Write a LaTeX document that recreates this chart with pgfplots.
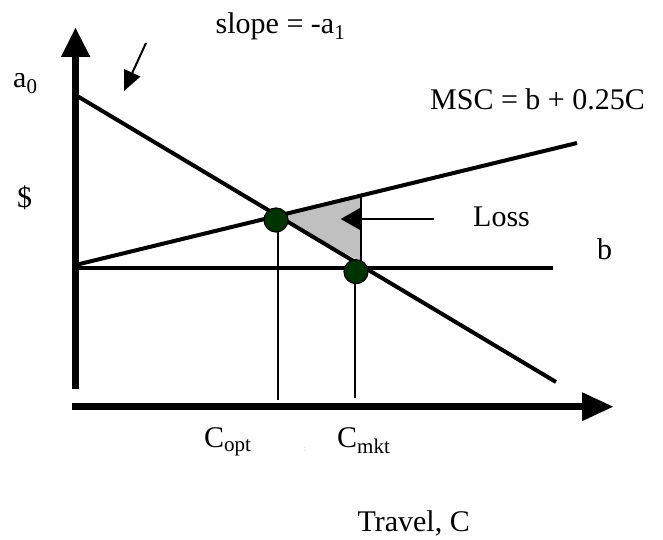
\documentclass[border=0pt]{standalone}
\usepackage{fontspec}
\setmainfont{Liberation Serif}
\usepackage{pgfplots}
\pgfplotsset{compat=1.18}
\definecolor{dotgreen}{RGB}{0,51,0}
\definecolor{lossgray}{RGB}{192,192,192}
\tikzset{lbl/.style={font=\fontsize{30}{36}\selectfont, inner sep=0pt, anchor=base west}}

\begin{document}
\begin{tikzpicture}
\begin{axis}[x=1pt, y=1pt, xmin=0, xmax=663, ymin=0, ymax=540,
  scale only axis, hide axis, clip=false]
  % page frame
  \addplot[draw=none] coordinates {(0,0) (663,540)};
  % deadweight loss triangle
  \addplot[fill=lossgray, draw=none] coordinates {(278.5,323.8) (361,343.6) (361,278) (278.5,323.8)};
  \addplot[black, line width=2pt] coordinates {(361,343.6) (361,278)};
  % demand, MSC and b
  \addplot[black, line width=4pt] coordinates {(75.5,445) (556,158)};
  \addplot[black, line width=4pt] coordinates {(75.5,275) (577,397)};
  \addplot[black, line width=4pt] coordinates {(75.5,272.3) (553,272.3)};
  % axes with arrowheads
  \addplot[black, line width=6.5pt] coordinates {(75.5,151) (75.5,484)};
  \addplot[fill=black, draw=none] coordinates {(61,483) (90.4,483) (75.5,512) (61,483)};
  \addplot[black, line width=6.5pt] coordinates {(72,133.3) (583,133.3)};
  \addplot[fill=black, draw=none] coordinates {(582,147.8) (582,118.8) (613,133.3) (582,147.8)};
  % C_mkt drop line (under the dot)
  \addplot[black, line width=2pt] coordinates {(355,268) (355,142)};
  % equilibrium dots
  \addplot[only marks, mark=*, mark size=12, mark options={fill=dotgreen, draw=black, line width=1.2pt}]
    coordinates {(276,320) (356,268.3)};
  % C_opt drop line (over the dot)
  \addplot[black, line width=2pt] coordinates {(278,320) (278,140)};
  % Loss arrow
  \addplot[black, line width=2pt] coordinates {(434,321) (358,321)};
  \addplot[fill=black, draw=none] coordinates {(360,332) (360,310) (340.7,321) (360,332)};
  % slope arrow
  \addplot[black, line width=2pt] coordinates {(146,497) (132.3,467.2)};
  \addplot[fill=black, draw=none] coordinates {(140.5,463.4) (124.1,471) (124,449) (140.5,463.4)};
  % labels
  \node[lbl] at (axis cs:215.5,506) {slope = -a\textsubscript{1}};
  \node[lbl] at (axis cs:13,452) {a\textsubscript{0}};
  \node[lbl] at (axis cs:430,430) {MSC = b + 0.25C};
  \node[lbl] at (axis cs:17,332) {\$};
  \node[lbl] at (axis cs:473,313.3) {Loss};
  \node[lbl] at (axis cs:597,280) {b};
  \node[lbl] at (axis cs:204,92) {C\textsubscript{opt}};
  \node[lbl] at (axis cs:337,92) {C\textsubscript{mkt}};
  \node[anchor=base, inner sep=0pt, text=black!25, font=\fontsize{8}{8}\selectfont] at (axis cs:305,88) {:};
  \node[lbl, anchor=base east] at (axis cs:470,9) {Travel, C};
\end{axis}
\end{tikzpicture}
\end{document}
